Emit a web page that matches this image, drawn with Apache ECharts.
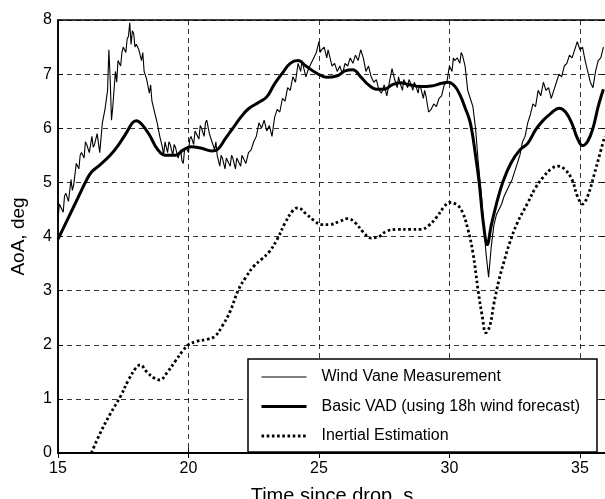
<!DOCTYPE html>
<html>
<head>
<meta charset="utf-8">
<script src="https://cdn.jsdelivr.net/npm/echarts@6/dist/echarts.min.js"></script>
<style>
html,body{margin:0;padding:0;background:#fff;}
#chart{width:605px;height:499px;}
</style>
</head>
<body>
<div id="chart"></div>
<script>
// ---- data (time s, AoA deg) ----
var xTicks = [15, 20, 25, 30, 35];
var yTicks = [0, 1, 2, 3, 4, 5, 6, 7, 8];
var seriesNames = ['Wind Vane Measurement', 'Basic VAD (using 18h wind forecast)', 'Inertial Estimation'];

var windVane = [
[15.0,4.30],[15.05,4.60],[15.1,4.55],[15.2,4.45],[15.25,4.75],[15.3,4.80],[15.4,4.65],[15.5,5.05],[15.55,4.85],[15.6,4.95],[15.7,5.35],[15.8,5.25],[15.85,5.50],[15.9,5.55],
[16.0,5.45],[16.05,5.75],[16.1,5.70],[16.2,5.55],[16.3,5.85],[16.35,5.65],[16.4,5.70],[16.5,5.90],[16.6,5.55],[16.7,6.10],[16.8,6.35],[16.9,6.70],
[16.95,7.45],[17.0,6.90],[17.05,6.15],[17.1,6.40],[17.2,7.05],[17.25,6.85],[17.3,7.25],[17.4,7.15],[17.45,7.40],[17.5,7.50],[17.6,7.40],[17.65,7.65],[17.7,7.70],
[17.75,7.95],[17.8,7.55],[17.85,7.80],[17.9,7.75],[17.95,7.50],[18.0,7.55],[18.1,7.45],[18.2,7.25],[18.25,7.40],[18.3,7.05],[18.4,6.90],[18.5,6.65],[18.55,6.80],[18.6,6.50],
[18.7,6.30],[18.8,6.10],[18.9,5.85],[19.0,5.65],[19.05,5.50],[19.1,5.75],[19.2,5.55],[19.25,5.75],[19.3,5.70],[19.4,5.50],[19.45,5.70],[19.5,5.65],[19.6,5.45],
[19.7,5.60],[19.75,5.40],[19.8,5.35],[19.85,5.60],[19.9,5.65],[20.0,5.55],[20.05,5.80],[20.1,5.85],[20.2,5.70],[20.25,5.95],[20.3,5.95],[20.4,5.80],[20.45,6.05],[20.5,6.00],[20.6,5.85],
[20.65,6.10],[20.7,6.15],[20.8,5.90],[20.9,5.75],[21.0,5.60],[21.05,5.75],[21.1,5.50],[21.2,5.30],[21.25,5.50],[21.3,5.45],[21.4,5.25],[21.45,5.45],[21.5,5.40],[21.6,5.30],
[21.65,5.50],[21.7,5.45],[21.8,5.25],[21.85,5.45],[21.9,5.40],[22.0,5.30],[22.05,5.50],[22.1,5.50],[22.2,5.35],[22.3,5.55],[22.4,5.60],[22.5,5.75],[22.6,5.85],
[22.7,6.10],[22.8,6.00],[22.9,6.15],[23.0,5.95],[23.1,6.05],[23.2,5.85],[23.3,6.20],[23.4,6.35],[23.5,6.30],[23.6,6.55],
[23.7,6.50],[23.8,6.75],[23.9,6.70],[24.0,6.95],[24.1,6.85],[24.2,7.20],[24.3,7.05],[24.35,7.25],[24.4,7.15],[24.5,6.95],[24.6,7.10],
[24.7,7.20],[24.8,7.30],[24.9,7.40],[25.0,7.60],[25.05,7.40],[25.1,7.45],[25.2,7.50],[25.3,7.30],[25.35,7.45],[25.4,7.35],[25.5,7.15],[25.6,7.20],
[25.7,7.05],[25.8,7.15],[25.9,7.00],[26.0,7.20],[26.1,7.15],[26.2,7.30],[26.3,7.20],[26.4,7.35],[26.5,7.25],[26.6,7.45],
[26.7,7.30],[26.8,7.05],[26.9,7.15],[27.0,6.95],[27.1,6.85],[27.2,6.90],[27.3,6.70],[27.4,6.65],[27.5,6.80],[27.6,6.60],
[27.7,6.85],[27.8,7.10],[27.9,6.90],[28.0,6.75],[28.05,6.95],[28.1,6.85],[28.2,6.70],[28.25,6.90],[28.3,6.85],[28.4,6.75],[28.45,6.90],[28.5,6.85],[28.6,6.70],
[28.65,6.85],[28.7,6.80],[28.8,6.65],[28.85,6.80],[28.9,6.75],[29.0,6.55],[29.05,6.70],[29.1,6.60],[29.2,6.30],[29.3,6.35],[29.4,6.45],[29.5,6.40],[29.6,6.55],
[29.7,6.60],[29.8,6.80],[29.9,6.85],[30.0,7.15],[30.1,7.05],[30.15,7.30],[30.2,7.25],[30.3,7.30],[30.4,7.20],[30.45,7.40],[30.5,7.35],[30.6,7.15],
[30.7,6.70],[30.8,6.55],[30.9,6.40],[31.0,6.00],[31.1,5.40],[31.2,4.90],[31.3,4.30],[31.4,3.70],[31.5,3.25],[31.6,3.80],
[31.7,4.20],[31.8,4.40],[31.9,4.50],[32.0,4.60],[32.1,4.75],[32.2,4.85],[32.3,4.95],[32.4,5.05],[32.5,5.20],[32.6,5.35],
[32.7,5.50],[32.8,5.75],[32.9,5.85],[33.0,6.10],[33.1,6.25],[33.2,6.45],[33.3,6.40],[33.4,6.70],[33.5,6.60],[33.6,6.85],
[33.7,6.70],[33.8,6.75],[33.9,6.55],[34.0,6.70],[34.1,6.85],[34.2,7.00],[34.3,6.95],[34.4,7.15],[34.5,7.20],[34.6,7.35],
[34.7,7.30],[34.8,7.45],[34.9,7.60],[35.0,7.45],[35.1,7.50],[35.2,7.25],[35.3,7.05],[35.4,6.85],[35.5,6.75],[35.6,7.05],
[35.7,7.25],[35.8,7.30],[35.9,7.50]
];

var basicVAD = [
[15.0,3.95],[15.4,4.35],[15.8,4.75],[16.1,5.05],[16.3,5.20],[16.6,5.32],[17.0,5.50],[17.3,5.68],[17.6,5.90],[17.85,6.10],
[18.0,6.14],[18.2,6.08],[18.5,5.88],[18.8,5.62],[19.1,5.50],[19.5,5.50],[19.8,5.60],[20.1,5.66],[20.5,5.63],[20.9,5.58],
[21.1,5.60],[21.4,5.80],[21.7,6.00],[22.0,6.20],[22.3,6.36],[22.7,6.48],[23.0,6.58],[23.3,6.82],[23.6,7.02],[23.9,7.20],
[24.2,7.25],[24.5,7.15],[24.9,7.02],[25.3,6.94],[25.7,6.97],[26.0,7.06],[26.3,7.08],[26.6,6.95],[26.9,6.80],[27.2,6.72],
[27.5,6.72],[27.8,6.80],[28.1,6.84],[28.5,6.80],[28.9,6.77],[29.3,6.78],[29.7,6.83],[29.95,6.85],[30.2,6.78],[30.4,6.62],
[30.6,6.38],[30.8,6.10],[31.0,5.50],[31.15,4.95],[31.3,4.25],[31.45,3.85],[31.6,4.20],[31.8,4.60],[32.05,5.01],[32.35,5.35],
[32.7,5.60],[33.0,5.72],[33.3,5.97],[33.6,6.15],[33.9,6.28],[34.2,6.37],[34.45,6.30],[34.7,6.08],[34.9,5.82],[35.1,5.68],
[35.3,5.76],[35.5,6.00],[35.7,6.40],[35.9,6.72]
];

var inertial = [
[16.28,0.00],[16.6,0.35],[17.0,0.72],[17.4,1.05],[17.7,1.35],[18.0,1.58],[18.15,1.63],[18.4,1.50],[18.7,1.38],[18.9,1.35],
[19.2,1.50],[19.5,1.70],[19.8,1.90],[20.0,2.00],[20.3,2.06],[20.7,2.10],[21.0,2.15],[21.3,2.35],[21.6,2.62],[21.9,3.00],
[22.2,3.25],[22.5,3.45],[22.8,3.58],[23.1,3.72],[23.4,3.95],[23.7,4.25],[24.0,4.48],[24.2,4.53],[24.5,4.42],[24.8,4.30],
[25.1,4.22],[25.4,4.22],[25.8,4.28],[26.1,4.33],[26.4,4.25],[26.7,4.08],[27.0,3.97],[27.3,4.00],[27.6,4.10],[28.0,4.13],
[28.5,4.13],[28.9,4.13],[29.2,4.20],[29.5,4.35],[29.8,4.55],[30.0,4.63],[30.3,4.58],[30.5,4.45],[30.7,4.15],[30.9,3.70],
[31.1,3.00],[31.25,2.55],[31.4,2.22],[31.55,2.35],[31.7,2.75],[31.9,3.20],[32.1,3.55],[32.3,3.87],[32.6,4.25],[33.0,4.62],
[33.3,4.90],[33.6,5.10],[33.9,5.25],[34.15,5.30],[34.4,5.25],[34.7,5.05],[34.9,4.75],[35.1,4.60],[35.3,4.75],[35.55,5.15],
[35.75,5.50],[35.95,5.85]
];

var FONT = '"Liberation Sans", Arial, Helvetica, sans-serif';
var chart = echarts.init(document.getElementById('chart'), null, {renderer: 'canvas'});

var gridDash = {type: [5, 4], color: '#000', width: 0.8};
var vaneStyle = {color: '#000', width: 1.1};
var vadStyle = {color: '#000', width: 3};
var inertialStyle = {color: '#000', width: 2.8, type: [2.6, 2.6]};

var option = {
  backgroundColor: '#fff',
  animation: false,
  grid: {left: 58, top: 20, width: 548, height: 433, containLabel: false, outerBoundsMode: 'none',
         show: true, borderColor: '#000', borderWidth: 1.5, backgroundColor: 'transparent'},
  legend: {
    data: [
      {name: seriesNames[0], lineStyle: {width: 1}},
      {name: seriesNames[1], lineStyle: {width: 3}},
      {name: seriesNames[2], lineStyle: {width: 2.8}}
    ],
    orient: 'vertical',
    left: 248, top: 359,
    padding: [10, 17, 8, 12],
    itemWidth: 45, itemHeight: 14, itemGap: 13.5,
    backgroundColor: '#fff',
    borderColor: '#000', borderWidth: 1.5,
    itemStyle: {opacity: 0},
    textStyle: {fontFamily: FONT, fontSize: 16, color: '#000', padding: [0, 0, 0, 10]},
    inactiveColor: '#000'
  },
  xAxis: [{
    type: 'value', min: 15, max: 36, interval: 5,
    name: 'Time since drop, s', nameLocation: 'middle', nameGap: 33,
    nameTextStyle: {fontFamily: FONT, fontSize: 20, color: '#000'},
    axisLine: {show: true, lineStyle: {color: '#000', width: 1.5}},
    axisTick: {show: true, inside: true, length: 5, lineStyle: {color: '#000', width: 1}},
    axisLabel: {show: true, fontFamily: FONT, fontSize: 16, color: '#000', margin: 8, showMaxLabel: false,
      formatter: function (v) { return xTicks.indexOf(v) >= 0 ? String(v) : ''; }},
    splitLine: {show: true, lineStyle: gridDash}
  }, {
    type: 'value', min: 15, max: 36, interval: 5, position: 'top',
    axisLine: {show: true, lineStyle: {color: '#000', width: 1.5}},
    axisTick: {show: true, inside: true, length: 5, lineStyle: {color: '#000', width: 1}},
    axisLabel: {show: false}, splitLine: {show: false}
  }],
  yAxis: [{
    type: 'value', min: 0, max: 8, interval: 1,
    name: 'AoA, deg', nameLocation: 'middle', nameGap: 30, nameRotate: 90,
    nameTextStyle: {fontFamily: FONT, fontSize: 19, color: '#000'},
    axisLine: {show: true, lineStyle: {color: '#000', width: 1.5}},
    axisTick: {show: true, inside: true, length: 5, lineStyle: {color: '#000', width: 1}},
    axisLabel: {show: true, fontFamily: FONT, fontSize: 16, color: '#000', margin: 6,
      formatter: function (v) { return yTicks.indexOf(v) >= 0 ? String(v) : ''; }},
    splitLine: {show: true, lineStyle: gridDash}
  }, {
    type: 'value', min: 0, max: 8, interval: 1, position: 'right',
    axisLine: {show: true, lineStyle: {color: '#000', width: 1.5}},
    axisTick: {show: true, inside: true, length: 5, lineStyle: {color: '#000', width: 1}},
    axisLabel: {show: false}, splitLine: {show: false}
  }],
  series: [
    {name: seriesNames[0], type: 'line', data: windVane, symbol: 'none', smooth: false,
     lineStyle: vaneStyle, itemStyle: {color: '#000'}, z: 3},
    {name: seriesNames[1], type: 'line', data: basicVAD, symbol: 'none', smooth: 0.4,
     lineStyle: vadStyle, itemStyle: {color: '#000'}, z: 4},
    {name: seriesNames[2], type: 'line', data: inertial, symbol: 'none', smooth: 0.4,
     lineStyle: inertialStyle, itemStyle: {color: '#000'}, z: 4}
  ]
};
chart.setOption(option);
</script>
</body>
</html>
